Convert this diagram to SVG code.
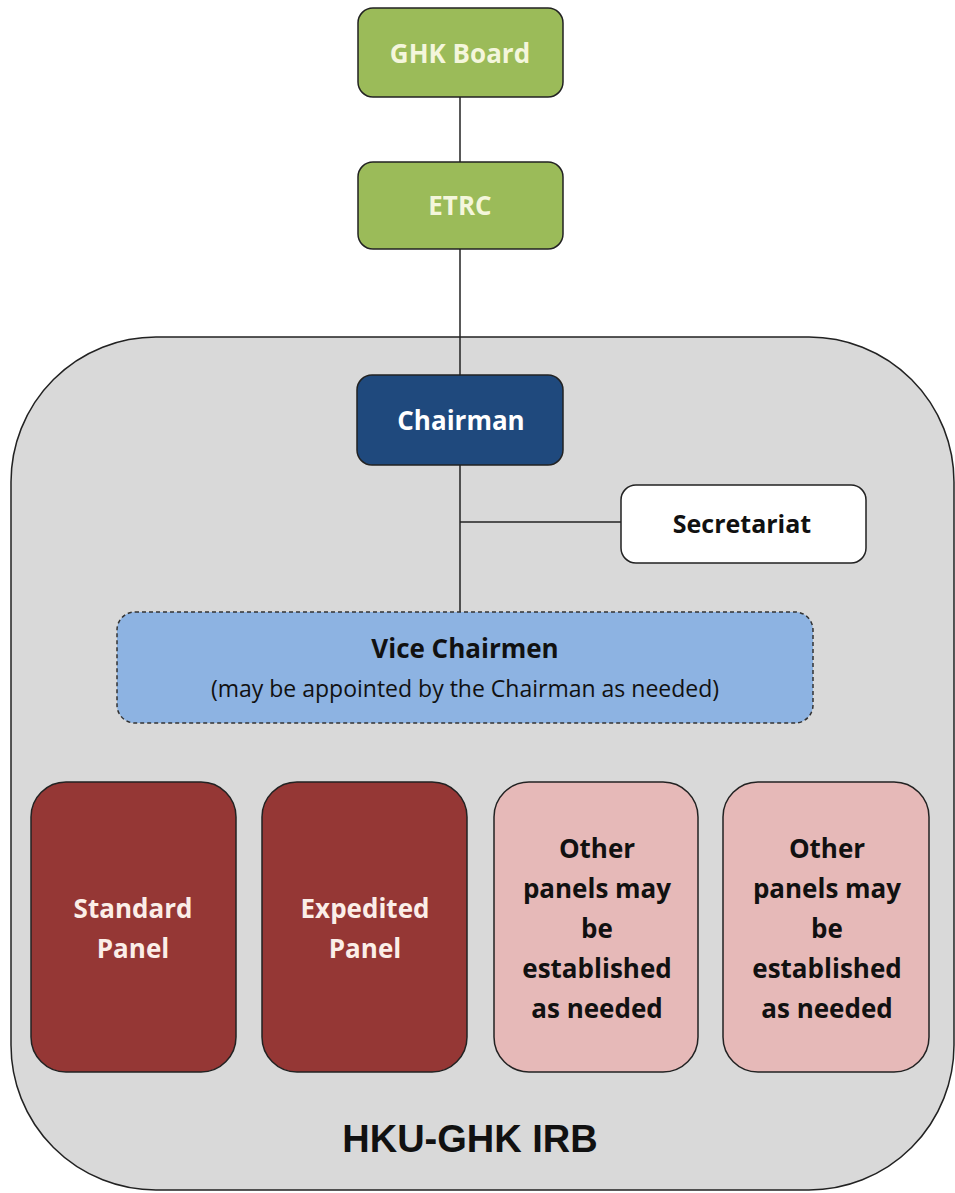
<svg xmlns="http://www.w3.org/2000/svg" width="955" height="1193" viewBox="0 0 955 1193">
<style>
.t{font-family:"Open Sans","Noto Sans","Liberation Sans",sans-serif;font-weight:bold;text-anchor:middle;font-size:26px}
.w{fill:#ffffff}
.k{fill:#111111}
.bx{stroke:#222;stroke-width:1.5}
.ln{stroke:#222;stroke-width:1.5;fill:none}
</style>
<rect width="955" height="1193" fill="#ffffff"/>
<g id="irb">
<rect x="11" y="337" width="943" height="853" rx="145" ry="145" fill="#d9d9d9" stroke="#222" stroke-width="1.5"/>
<text x="470" y="1152" text-anchor="middle" fill="#111" style="font-family:'Liberation Sans',Arial,sans-serif;font-weight:bold;font-size:38px">HKU-GHK IRB</text>
</g>
<g id="connectors">
<line class="ln" x1="460" y1="97" x2="460" y2="162"/>
<line class="ln" x1="460" y1="249" x2="460" y2="375"/>
<line class="ln" x1="460" y1="465" x2="460" y2="612"/>
<line class="ln" x1="460" y1="522" x2="621" y2="522"/>
</g>
<g id="ghk-board">
<rect class="bx" x="358" y="8" width="205" height="89" rx="15" fill="#9bbb59"/>
<text class="t" x="460" y="63" fill="#f4f6dc">GHK Board</text>
</g>
<g id="etrc">
<rect class="bx" x="358" y="162" width="205" height="87" rx="15" fill="#9bbb59"/>
<text class="t" x="460" y="215" fill="#f4f6dc">ETRC</text>
</g>
<g id="chairman">
<rect class="bx" x="357" y="375" width="206" height="90" rx="15" fill="#1f497d"/>
<text class="t w" x="461" y="430">Chairman</text>
</g>
<g id="secretariat">
<rect class="bx" x="621" y="485" width="245" height="78" rx="15" fill="#ffffff"/>
<text class="t k" x="742" y="533" style="font-size:25px">Secretariat</text>
</g>
<g id="vice-chairmen">
<rect x="117" y="612" width="696" height="111" rx="18" fill="#8db3e2" stroke="#333" stroke-width="1.5" stroke-dasharray="4,3"/>
<text class="t k" x="465" y="658">Vice Chairmen</text>
<text x="465" y="697" text-anchor="middle" fill="#111" style="font-family:'Open Sans','Noto Sans','Liberation Sans',sans-serif;font-size:23px">(may be appointed by the Chairman as needed)</text>
</g>
<g id="standard-panel">
<rect class="bx" x="31" y="782" width="205" height="290" rx="35" fill="#953735"/>
<text class="t" fill="#fbeee8"><tspan x="133" y="918">Standard</tspan><tspan x="133" y="958">Panel</tspan></text>
</g>
<g id="expedited-panel">
<rect class="bx" x="262" y="782" width="205" height="290" rx="35" fill="#953735"/>
<text class="t" fill="#fbeee8"><tspan x="365" y="918">Expedited</tspan><tspan x="365" y="958">Panel</tspan></text>
</g>
<g id="other-panel-1">
<rect class="bx" x="494" y="782" width="204" height="290" rx="35" fill="#e6b9b8"/>
<text class="t k"><tspan x="597" y="858">Other</tspan><tspan x="597" y="898">panels may</tspan><tspan x="597" y="938">be</tspan><tspan x="597" y="978">established</tspan><tspan x="597" y="1018">as needed</tspan></text>
</g>
<g id="other-panel-2">
<rect class="bx" x="723" y="782" width="206" height="290" rx="35" fill="#e6b9b8"/>
<text class="t k"><tspan x="827" y="858">Other</tspan><tspan x="827" y="898">panels may</tspan><tspan x="827" y="938">be</tspan><tspan x="827" y="978">established</tspan><tspan x="827" y="1018">as needed</tspan></text>
</g>
</svg>
